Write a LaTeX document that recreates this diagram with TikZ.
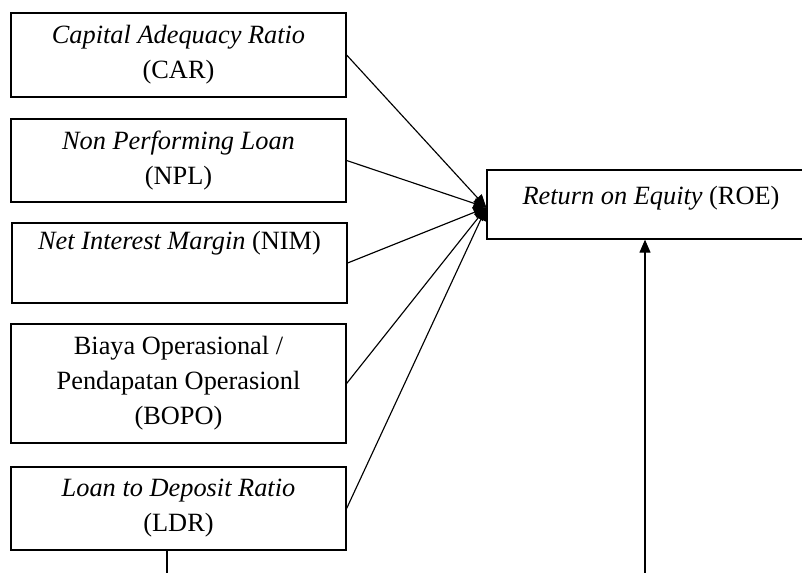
\documentclass[tikz,border=0pt]{standalone}
\usepackage{fontspec}
\setmainfont{Liberation Serif}
\usetikzlibrary{arrows.meta, positioning, calc}

\begin{document}
\begin{tikzpicture}[x=0.02cm, y=-0.02cm,
        var/.style={rectangle, draw, line width=0.75pt, minimum width=6.7cm, inner sep=0pt, align=center, font=\fontsize{15}{20}\selectfont},
        link/.style={-{Triangle[length=0.26cm, width=0.22cm]}, line width=0.65pt}]
                \useasboundingbox (0,0) rectangle (802,573);
                \node[var, minimum height=1.68cm] (car) at (178.5,55) {\textit{Capital Adequacy Ratio}\\(CAR)};
                \node[var, minimum height=1.66cm] (npl) at (178.5,160.5) {\textit{Non Performing Loan}\\(NPL)};
                \node[var, minimum height=1.6cm] (nim) at (179.5,263) {\textit{Net Interest Margin} (NIM)\\ \strut};
                \node[var, minimum height=2.38cm] (bopo) at (178.5,383.5) {Biaya Operasional /\\Pendapatan Operasionl\\(BOPO)};
                \node[var, minimum height=1.66cm] (ldr) at (178.5,508.5) {\textit{Loan to Deposit Ratio}\\(LDR)};
                \node[var, minimum width=6.56cm, minimum height=1.38cm, text height=0.36cm, text depth=0.34cm] (roe) at (651,204.5) {\textit{Return on Equity} (ROE)};
                \foreach \v in {car, npl, nim, bopo, ldr}
                    \draw[link] (\v.east) -- ([yshift=-0.06cm]roe.west);
                \coordinate (roein) at (645,573);
                \draw[link] (roein) -- (roein |- roe.south);
                \coordinate (ldrout) at (167,573);
                \draw[line width=0.65pt] (ldr.south -| ldrout) -- (ldrout);
            \end{tikzpicture}
\end{document}
